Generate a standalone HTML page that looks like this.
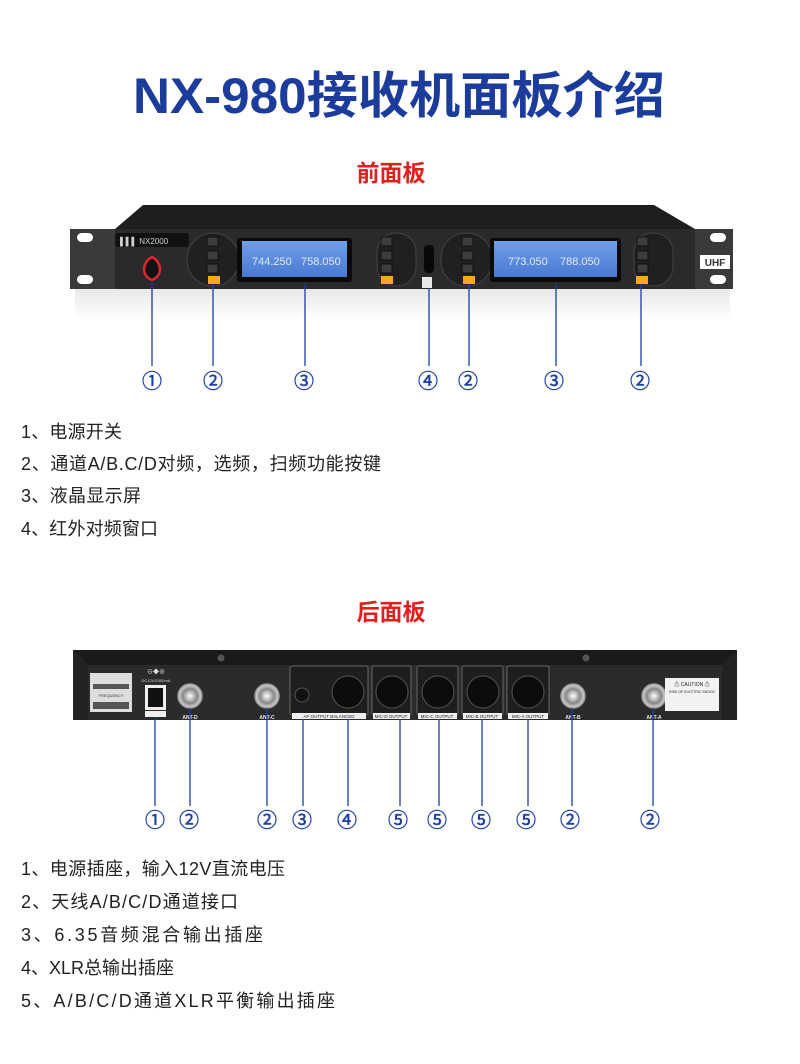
<!DOCTYPE html>
<html><head><meta charset="utf-8"><style>
html,body{margin:0;padding:0;background:#fff;}
svg{display:block;}
text{font-family:"Liberation Sans","Noto Sans CJK SC",sans-serif;}
</style></head><body>
<svg width="800" height="1064" viewBox="0 0 800 1064" xmlns="http://www.w3.org/2000/svg">
<defs>
<linearGradient id="ref" x1="0" y1="0" x2="0" y2="1"><stop offset="0" stop-color="#e8e8e8"/><stop offset="1" stop-color="#fff"/></linearGradient>
<linearGradient id="scr" x1="0" y1="0" x2="0" y2="1"><stop offset="0" stop-color="#6f9fe8"/><stop offset="1" stop-color="#4a78d0"/></linearGradient>
<radialGradient id="bnc"><stop offset="0" stop-color="#fff"/><stop offset="0.35" stop-color="#bbb"/><stop offset="0.6" stop-color="#888"/><stop offset="1" stop-color="#ddd"/></radialGradient>
</defs>
<text x="133" y="113" font-size="50" font-weight="bold" fill="#1c3c9c" textLength="532" lengthAdjust="spacingAndGlyphs">NX-980接收机面板介绍</text>
<text x="391" y="181" font-size="23" font-weight="bold" fill="#e0201c" text-anchor="middle">前面板</text>

<rect x="75" y="289" width="655" height="30" fill="url(#ref)"/>
<polygon points="143,205 654,205 695,229 115,229" fill="#1e1e20"/>
<rect x="70" y="229" width="663" height="60" rx="3" fill="#2a2a2c"/>
<rect x="70" y="229" width="45" height="60" fill="#3a3a3c"/>
<rect x="695" y="229" width="38" height="60" fill="#3a3a3c"/>
<rect x="77" y="233" width="16" height="9" rx="4.5" fill="#fff"/>
<rect x="77" y="275" width="16" height="9" rx="4.5" fill="#fff"/>
<rect x="710" y="233" width="16" height="9" rx="4.5" fill="#fff"/>
<rect x="710" y="275" width="16" height="9" rx="4.5" fill="#fff"/>
<rect x="115" y="233" width="74" height="14" rx="3" fill="#111"/>
<text x="120" y="244" font-size="8" fill="#ccc">▌▌▌ NX2000</text>
<path d="M152,257 C162,262 163,276 152,280 C141,276 142,262 152,257 Z" fill="#111" stroke="#e0262a" stroke-width="2.5"/>
<rect x="187" y="233" width="52" height="53" rx="26" fill="#202022" stroke="#444"/>
<rect x="377" y="233" width="39" height="53" rx="19" fill="#202022" stroke="#444"/>
<rect x="441" y="233" width="51" height="53" rx="25" fill="#202022" stroke="#444"/>
<rect x="634" y="233" width="39" height="53" rx="19" fill="#202022" stroke="#444"/>
<g fill="#3d3d40" stroke="#111">
<rect x="207" y="237" width="11" height="9"/><rect x="207" y="251" width="11" height="9"/><rect x="207" y="264" width="11" height="9"/>
<rect x="381" y="237" width="11" height="9"/><rect x="381" y="251" width="11" height="9"/><rect x="381" y="264" width="11" height="9"/>
<rect x="462" y="237" width="11" height="9"/><rect x="462" y="251" width="11" height="9"/><rect x="462" y="264" width="11" height="9"/>
<rect x="637" y="237" width="11" height="9"/><rect x="637" y="251" width="11" height="9"/><rect x="637" y="264" width="11" height="9"/>
</g>
<g fill="#f7a81c"><rect x="208" y="276" width="12" height="8"/><rect x="381" y="276" width="12" height="8"/><rect x="463" y="276" width="12" height="8"/><rect x="636" y="276" width="12" height="8"/></g>
<rect x="237" y="238" width="115" height="44" rx="3" fill="#0a0a0a"/>
<rect x="242" y="241" width="105" height="36" fill="url(#scr)"/>
<text x="252" y="265" font-size="11" fill="#dfe9ff">744.250</text><text x="301" y="265" font-size="11" fill="#dfe9ff">758.050</text>
<rect x="490" y="238" width="131" height="44" rx="3" fill="#0a0a0a"/>
<rect x="494" y="241" width="123" height="36" fill="url(#scr)"/>
<text x="508" y="265" font-size="11" fill="#dfe9ff">773.050</text><text x="560" y="265" font-size="11" fill="#dfe9ff">788.050</text>
<rect x="424" y="245" width="10" height="28" rx="4" fill="#080808"/>
<rect x="422" y="277" width="10" height="11" fill="#e8e8e8"/>
<rect x="700" y="255" width="30" height="14" fill="#fff"/>
<text x="715" y="266" font-size="10" font-weight="bold" fill="#333" text-anchor="middle">UHF</text>
<g stroke="#1a3fa5" stroke-width="1.3">
<line x1="152" y1="282" x2="152" y2="366"/><line x1="213" y1="284" x2="213" y2="366"/><line x1="305" y1="284" x2="305" y2="366"/><line x1="429" y1="288" x2="429" y2="366"/><line x1="469" y1="284" x2="469" y2="366"/><line x1="556" y1="284" x2="556" y2="366"/><line x1="641" y1="284" x2="641" y2="366"/>
</g>
<g font-size="20" fill="#1a3fa5" stroke="#1a3fa5" stroke-width="0.5" text-anchor="middle" style="font-family:'DejaVu Sans',sans-serif">
<text x="152" y="388">①</text><text x="213" y="388">②</text><text x="304" y="388">③</text><text x="428" y="388">④</text><text x="468" y="388">②</text><text x="554" y="388">③</text><text x="640" y="388">②</text>
</g>
<g font-size="18" fill="#222" lengthAdjust="spacingAndGlyphs">
<text x="21" y="438" textLength="101">1、电源开关</text>
<text x="21" y="470" textLength="360">2、通道A/B.C/D对频，选频，扫频功能按键</text>
<text x="21" y="502" textLength="120">3、液晶显示屏</text>
<text x="21" y="535" textLength="137">4、红外对频窗口</text>
</g>

<text x="391" y="620" font-size="23" font-weight="bold" fill="#e0201c" text-anchor="middle">后面板</text>
<rect x="73" y="650" width="664" height="70" fill="#2b2b2d"/>
<polygon points="73,650 737,650 722,665 88,665" fill="#1a1a1b"/>
<polygon points="73,650 88,665 88,720 73,720" fill="#222"/>
<polygon points="737,650 722,665 722,720 737,720" fill="#222"/>
<circle cx="221" cy="658" r="3.5" fill="#555"/><circle cx="586" cy="658" r="3.5" fill="#555"/>
<rect x="90" y="673" width="42" height="39" fill="#ddd"/><rect x="93" y="684" width="36" height="5" fill="#555"/><rect x="93" y="702" width="36" height="7" fill="#555"/>
<text x="111" y="697" font-size="4" fill="#333" text-anchor="middle">FREQUENCY</text>
<text x="156" y="674" font-size="6" fill="#ddd" text-anchor="middle">⊖◆⊕</text>
<text x="156" y="682" font-size="4" fill="#ddd" text-anchor="middle">DC12V/1000mA</text>
<rect x="145" y="685" width="21" height="25" fill="#eee"/><rect x="148" y="688" width="15" height="19" fill="#111"/>
<rect x="145" y="711" width="21" height="6" fill="#eee"/>
<g stroke="#999" stroke-width="1.5">
<circle cx="190" cy="696" r="12" fill="url(#bnc)"/><circle cx="267" cy="696" r="12" fill="url(#bnc)"/><circle cx="573" cy="696" r="12" fill="url(#bnc)"/><circle cx="654" cy="696" r="12" fill="url(#bnc)"/>
</g>
<g fill="#eee" font-size="5" text-anchor="middle" font-weight="bold"><text x="190" y="719">ANT-D</text><text x="267" y="719">ANT-C</text><text x="573" y="719">ANT-B</text><text x="654" y="719">ANT-A</text></g>
<g fill="#1e1e20" stroke="#777" stroke-width="0.8">
<rect x="290" y="666" width="78" height="49" rx="2"/><rect x="372" y="666" width="39" height="49" rx="2"/><rect x="417" y="666" width="41" height="49" rx="2"/><rect x="462" y="666" width="41" height="49" rx="2"/><rect x="507" y="666" width="42" height="49" rx="2"/>
</g>
<g fill="#eee"><rect x="292" y="713" width="74" height="6"/><rect x="373" y="713" width="37" height="6"/><rect x="418" y="713" width="39" height="6"/><rect x="463" y="713" width="39" height="6"/><rect x="508" y="713" width="40" height="6"/></g>
<g fill="#222" font-size="4.5" text-anchor="middle"><text x="329" y="718">AF OUTPUT BALANCED</text><text x="391" y="718">MIC-D OUTPUT</text><text x="437" y="718">MIC-C OUTPUT</text><text x="482" y="718">MIC-B OUTPUT</text><text x="528" y="718">MIC-A OUTPUT</text></g>
<circle cx="302" cy="695" r="7" fill="#111" stroke="#555"/>
<g fill="#0c0c0c" stroke="#555"><circle cx="348" cy="692" r="16"/><circle cx="392" cy="692" r="16"/><circle cx="438" cy="692" r="16"/><circle cx="483" cy="692" r="16"/><circle cx="528" cy="692" r="16"/></g>
<rect x="665" y="678" width="54" height="33" fill="#f2f2f2"/>
<text x="692" y="686" font-size="5" fill="#222" text-anchor="middle">⚠ CAUTION ⚠</text>
<text x="692" y="693" font-size="3.5" fill="#222" text-anchor="middle">RISK OF ELECTRIC SHOCK</text>
<g stroke="#1a3fa5" stroke-width="1.3">
<line x1="155" y1="718" x2="155" y2="806"/><line x1="190" y1="708" x2="190" y2="806"/><line x1="267" y1="708" x2="267" y2="806"/><line x1="303" y1="719" x2="303" y2="806"/><line x1="348" y1="719" x2="348" y2="806"/><line x1="400" y1="719" x2="400" y2="806"/><line x1="439" y1="719" x2="439" y2="806"/><line x1="482" y1="719" x2="482" y2="806"/><line x1="528" y1="719" x2="528" y2="806"/><line x1="572" y1="708" x2="572" y2="806"/><line x1="653" y1="708" x2="653" y2="806"/>
</g>
<g font-size="20" fill="#1a3fa5" stroke="#1a3fa5" stroke-width="0.5" text-anchor="middle" style="font-family:'DejaVu Sans',sans-serif">
<text x="155" y="827">①</text><text x="189" y="827">②</text><text x="267" y="827">②</text><text x="302" y="827">③</text><text x="347" y="827">④</text><text x="398" y="827">⑤</text><text x="437" y="827">⑤</text><text x="481" y="827">⑤</text><text x="526" y="827">⑤</text><text x="570" y="827">②</text><text x="650" y="827">②</text>
</g>
<g font-size="18" fill="#222" lengthAdjust="spacingAndGlyphs">
<text x="21" y="875" textLength="264">1、电源插座，输入12V直流电压</text>
<text x="21" y="908" textLength="217">2、天线A/B/C/D通道接口</text>
<text x="21" y="941" textLength="242">3、6.35音频混合输出插座</text>
<text x="21" y="974" textLength="153">4、XLR总输出插座</text>
<text x="21" y="1007" textLength="314">5、A/B/C/D通道XLR平衡输出插座</text>
</g>
</svg>
</body></html>
